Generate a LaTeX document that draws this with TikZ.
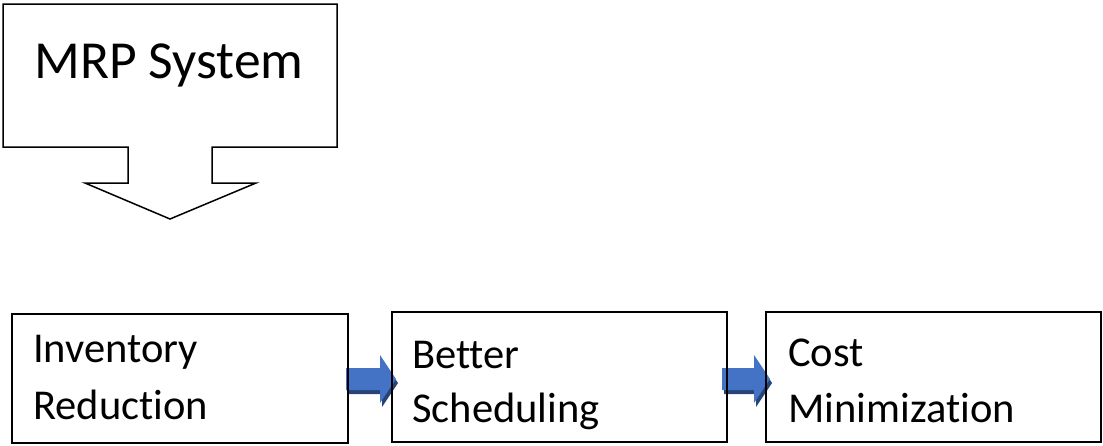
\documentclass[tikz,border=0pt]{standalone}
\usepackage{fontspec}
\setmainfont[Ligatures={NoCommon}]{Carlito}
\definecolor{arrowblue}{RGB}{68,114,196}
\definecolor{arrowshade}{RGB}{38,68,120}
\begin{document}
\begin{tikzpicture}[x=1pt,y=-1pt,
  outline/.style={draw=black,line width=1.5pt,line join=miter},
  stagebox/.style={outline,rectangle,inner sep=0pt},
  stagetext/.style={anchor=base west,inner sep=0pt,font=\fontsize{42.5}{50}\selectfont},
  titletext/.style={anchor=base,inner sep=0pt,font=\fontsize{53.5}{64}\selectfont},
  flowarrow/.style={fill=arrowblue,draw=none},
  flowshade/.style={fill=arrowshade,draw=none}]
\useasboundingbox (0,0) rectangle (1103,445);

% callout box with a downward arrow
\draw[outline] (3,4) -- (337,4) -- (337,147) -- (212,147) -- (212,183)
  -- (256,183) -- (170,219) -- (85,183) -- (128,183) -- (128,147)
  -- (3,147) -- cycle;
\node[titletext] (mrp) at (169,78) {MRP System};

% stage boxes
\node[stagebox,minimum width=336pt,minimum height=129pt] (b1) at (180,378.5) {};
\node[stagebox,minimum width=335pt,minimum height=130pt] (b2) at (559.5,377) {};
\node[stagebox,minimum width=335pt,minimum height=130pt] (b3) at (933.5,377) {};

\node[stagetext] (t1a) at (33,362) {Inventory};
\node[stagetext] (t1b) at (33,419) {Reduction};
\node[stagetext] (t2a) at (412,368) {Better};
\node[stagetext] (t2b) at (412,422) {Scheduling};
\node[stagetext] (t3a) at (788,366) {Cost};
\node[stagetext] (t3b) at (788,422) {Minimization};

% block arrows between the stages (shadow first, then the arrow)
\foreach \xa/\xb/\xc in {346/380/396, 722/754/770}{
  \fill[flowshade] (\xa+2,372) -- (\xb+2,372) -- (\xb+2,359) -- (\xc+2,383)
    -- (\xb+2,407) -- (\xb+2,394) -- (\xa+2,394) -- cycle;
  \fill[flowarrow] (\xa,368) -- (\xb,368) -- (\xb,355) -- (\xc,379)
    -- (\xb,403) -- (\xb,390) -- (\xa,390) -- cycle;
}
% box borders redrawn over the arrow ends
\node[stagebox,minimum width=336pt,minimum height=129pt] at (b1) {};
\node[stagebox,minimum width=335pt,minimum height=130pt] at (b2) {};
\node[stagebox,minimum width=335pt,minimum height=130pt] at (b3) {};
\end{tikzpicture}
\end{document}
